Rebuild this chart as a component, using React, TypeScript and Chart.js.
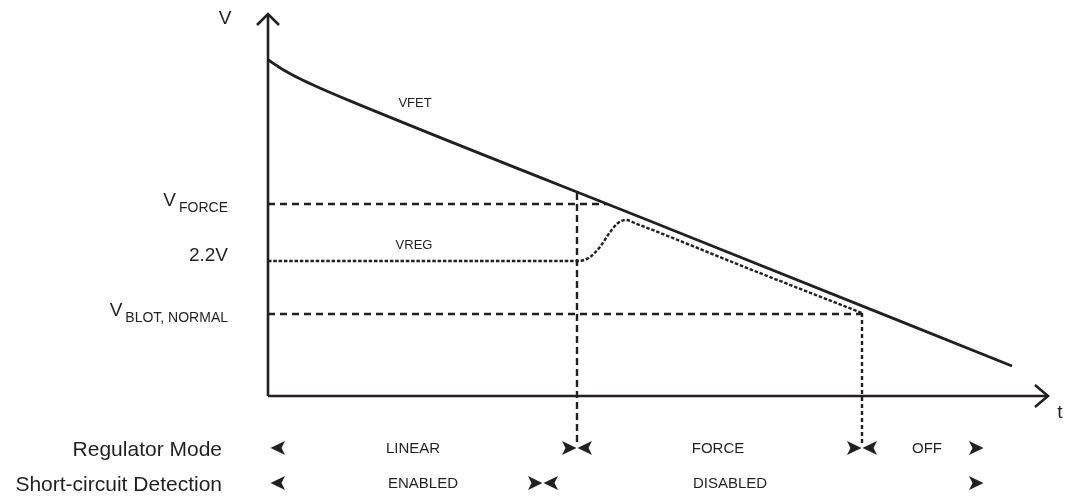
import React, { useEffect, useRef } from 'react';
import { Chart, registerables } from 'chart.js';

Chart.register(...registerables);

// ---- data (t in arbitrary time units, V in volts) ----
const T_RANGE = [-2.68, 8.03];
const V_RANGE = [-1.662, 6.454];

const axisTopV = 6.226;
const axisEndT = 7.8;

const vfetT = [0, 0.16, 0.32, 0.49, 0.82, 4.0, 7.44];
const vfetV = [5.48, 5.31, 5.17, 5.04, 4.81, 2.735, 0.49];

const vregT = [0, 3.1, 3.22, 3.32, 3.42, 3.5, 3.58, 3.68, 4.8, 5.94];
const vregV = [2.2, 2.2, 2.265, 2.43, 2.67, 2.82, 2.868, 2.81, 2.08, 1.353];

const V_FORCE = 3.13;
const V_REG = 2.2;
const V_BLOT = 1.336;
const forceEndT = 3.39;
const linearEndT = 3.09;
const forceEndTop = 3.308;
const forceModeEndT = 5.94;
const markerRowBottom = -0.8;

const modeRowV = -0.847;
const detectRowV = -1.418;
const modeMarkerT = [0.1, 3.01, 3.17, 5.86, 6.02, 7.08];
const modeMarkerDir = ['L', 'R', 'L', 'R', 'L', 'R'];
const detectMarkerT = [0.1, 2.67, 2.83, 7.08];
const detectMarkerDir = ['L', 'R', 'L', 'R'];

const modeLabels = ['LINEAR', 'FORCE', 'OFF'];
const modeLabelT = [1.45, 4.5, 6.59];
const detectLabels = ['ENABLED', 'DISABLED'];
const detectLabelT = [1.55, 4.62];

const levelMain = ['V', '2.2V', 'V'];
const levelSub = ['FORCE', '', 'BLOT, NORMAL'];
const levelV = [V_FORCE, V_REG, V_BLOT];

const rowTitles = ['Regulator Mode', 'Short-circuit Detection'];

const FONT = '"Liberation Sans", Arial, Helvetica, sans-serif';
const INK = '#231f20';

const pts = (ts: number[], vs: number[]) => ts.map((t, i) => ({ x: t, y: vs[i] }));

function makeArrowHead(): HTMLCanvasElement {
  const c = document.createElement('canvas');
  c.width = 16;
  c.height = 16;
  const g = c.getContext('2d')!;
  g.fillStyle = INK;
  g.beginPath();
  g.moveTo(1, 1);
  g.lineTo(15.5, 8);
  g.lineTo(1, 15);
  g.lineTo(4.5, 8);
  g.closePath();
  g.fill();
  return c;
}

const textPlugin = {
  id: 'diagramText',
  afterDatasetsDraw(chart: any) {
    const { ctx, scales } = chart;
    const xs = scales.x;
    const ys = scales.y;
    const px = (t: number) => xs.getPixelForValue(t);
    const py = (v: number) => ys.getPixelForValue(v);
    const x0 = px(0);
    ctx.save();
    ctx.fillStyle = INK;

    // axis labels
    ctx.font = `19px ${FONT}`;
    ctx.textAlign = 'center';
    ctx.textBaseline = 'middle';
    ctx.fillText('V', x0 - 43, py(axisTopV) + 5);
    ctx.fillText('t', px(axisEndT) + 12, py(0) + 17);

    // level labels
    const right = x0 - 40;
    ctx.textBaseline = 'alphabetic';
    ctx.textAlign = 'right';
    levelMain.forEach((m, i) => {
      const y = py(levelV[i]);
      const sub = levelSub[i];
      if (sub) {
        ctx.font = `14px ${FONT}`;
        const w = ctx.measureText(sub).width;
        ctx.fillText(sub, right, y + 8);
        ctx.font = `19px ${FONT}`;
        ctx.fillText(m, right - w - 3, y + 2);
      } else {
        ctx.font = `19px ${FONT}`;
        ctx.fillText(m, right, y);
      }
    });

    // curve labels
    ctx.font = `13px ${FONT}`;
    ctx.textAlign = 'center';
    ctx.textBaseline = 'middle';
    ctx.fillText('VFET', px(1.47), py(4.775));
    ctx.fillText('VREG', px(1.46), py(2.46));

    // row titles
    ctx.font = `21px ${FONT}`;
    ctx.textAlign = 'right';
    ctx.fillText(rowTitles[0], x0 - 46, py(modeRowV) + 2);
    ctx.fillText(rowTitles[1], x0 - 46, py(detectRowV) + 2);

    // row labels
    ctx.font = `15px ${FONT}`;
    ctx.textAlign = 'center';
    modeLabels.forEach((l, i) => ctx.fillText(l, px(modeLabelT[i]), py(modeRowV) + 1));
    detectLabels.forEach((l, i) => ctx.fillText(l, px(detectLabelT[i]), py(detectRowV) + 1));
    ctx.restore();
  },
};

export default function App() {
  const ref = useRef<HTMLCanvasElement | null>(null);

  useEffect(() => {
    if (!ref.current) return;
    const head = makeArrowHead();
    const solid = (data: any[], w = 2.6) => ({
      data,
      borderColor: INK,
      borderWidth: w,
      pointRadius: 0,
      fill: false,
      borderJoinStyle: 'miter',
      borderCapStyle: 'butt',
    });
    const dashed = (data: any[], dash: number[], w = 2.4) => ({
      ...solid(data, w),
      borderDash: dash,
    });
    const markers = (ts: number[], v: number, dirs: string[]) => ({
      data: ts.map((t) => ({ x: t, y: v })),
      showLine: false,
      pointStyle: head,
      pointRadius: 8,
      rotation: (c: any) => (dirs[c.dataIndex] === 'L' ? 180 : 0),
    });

    const chart = new Chart(ref.current, {
      type: 'line',
      data: {
        datasets: [
          solid([{ x: 0, y: 0 }, { x: 0, y: axisTopV }]),
          solid([{ x: -0.11, y: axisTopV - 0.18 }, { x: 0, y: axisTopV }, { x: 0.11, y: axisTopV - 0.18 }]),
          solid([{ x: 0, y: 0 }, { x: axisEndT, y: 0 }]),
          solid([{ x: axisEndT - 0.13, y: 0.18 }, { x: axisEndT, y: 0 }, { x: axisEndT - 0.13, y: -0.18 }]),
          { ...solid(pts(vfetT, vfetV), 2.8), cubicInterpolationMode: 'monotone', borderJoinStyle: 'round' },
          { ...dashed(pts(vregT, vregV), [3.5, 1.8], 2.4), cubicInterpolationMode: 'monotone' },
          dashed([{ x: 0, y: V_FORCE }, { x: forceEndT, y: V_FORCE }], [7, 5]),
          dashed([{ x: 0, y: V_BLOT }, { x: forceModeEndT, y: V_BLOT }], [7, 5]),
          dashed([{ x: linearEndT, y: forceEndTop }, { x: linearEndT, y: markerRowBottom }], [7, 4]),
          dashed([{ x: forceModeEndT, y: vregV[vregV.length - 1] }, { x: forceModeEndT, y: markerRowBottom }], [4, 3]),
          markers(modeMarkerT, modeRowV, modeMarkerDir),
          markers(detectMarkerT, detectRowV, detectMarkerDir),
        ] as any,
      },
      options: {
        animation: false,
        responsive: false,
        maintainAspectRatio: false,
        layout: { padding: 0, autoPadding: false },
        events: [],
        plugins: { legend: { display: false }, tooltip: { enabled: false }, title: { display: false } },
        scales: {
          x: { type: 'linear', min: T_RANGE[0], max: T_RANGE[1], display: false },
          y: { type: 'linear', min: V_RANGE[0], max: V_RANGE[1], display: false },
        },
      } as any,
      plugins: [textPlugin],
    });
    return () => chart.destroy();
  }, []);

  return (
    <div style={{ position: 'absolute', left: 0, top: 0, width: 1071, height: 498, background: '#fff' }}>
      <canvas ref={ref} width={1071} height={498} style={{ width: 1071, height: 498, display: 'block' }} />
    </div>
  );
}
